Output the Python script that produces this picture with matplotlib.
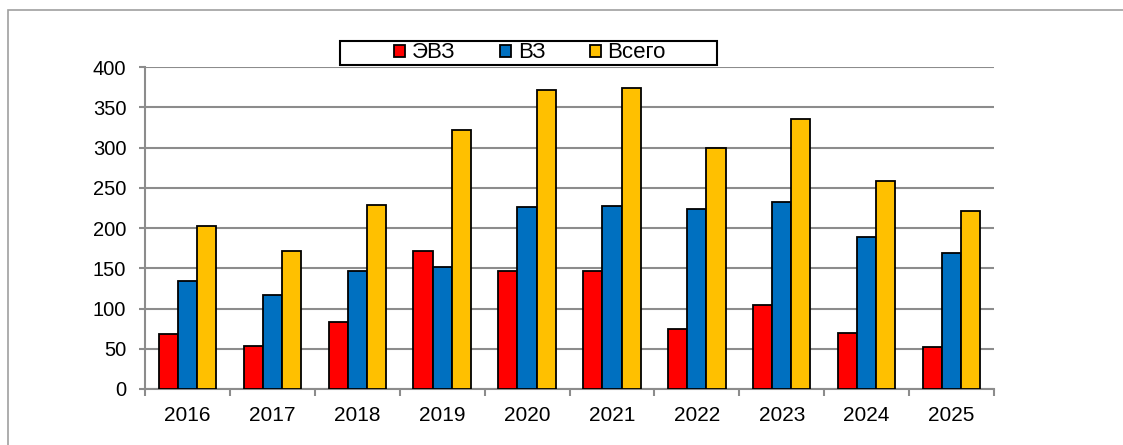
import numpy as np
import matplotlib
matplotlib.use("Agg")
import matplotlib.pyplot as plt
from matplotlib.patches import Rectangle

plt.rcParams['font.family'] = ['Liberation Sans', 'DejaVu Sans']

# Data
years = ['2016', '2017', '2018', '2019', '2020', '2021', '2022', '2023', '2024', '2025']
evz = [68, 54, 83, 171, 146, 147, 75, 104, 69, 52]
vz = [134, 117, 146, 151, 226, 227, 224, 232, 189, 169]
total = [202, 171, 229, 322, 372, 374, 299, 336, 258, 221]

series_names = ['ЭВЗ', 'ВЗ', 'Всего']
colors = ['#FF0000', '#0070C0', '#FFC000']

W, H = 1123, 445
fig = plt.figure(figsize=(W / 100, H / 100), dpi=100)
ax = fig.add_axes([145 / W, 1 - 389 / H, (994 - 145) / W, (389 - 67) / H])

x = np.arange(len(years))
bw = 0.225
for i, (vals, name, c) in enumerate(zip([evz, vz, total], series_names, colors)):
    ax.bar(x + (i - 1) * bw, vals, width=bw, color=c, edgecolor='black',
           linewidth=1.3, label=name, zorder=3)

# Axes styling
grid_c = '#8c8c8c'
ax.set_xlim(-0.5, len(years) - 0.5)
ax.set_ylim(0, 400)
ax.set_yticks(np.arange(0, 401, 50))
ax.yaxis.grid(True, color=grid_c, linewidth=1.5, zorder=0)
ax.set_axisbelow(True)
for s in ['top', 'right']:
    ax.spines[s].set_visible(False)
for s in ['left', 'bottom']:
    ax.spines[s].set_color(grid_c)
    ax.spines[s].set_linewidth(1.5)

ax.set_xticks(x)
ax.set_xticklabels(years)
ax.set_xticks(np.arange(-0.5, len(years)), minor=True)
ax.tick_params(axis='x', which='major', length=0, pad=12, labelsize=15)
ax.tick_params(axis='x', which='minor', length=5, width=1.5, color=grid_c, direction='out')
ax.tick_params(axis='y', length=4.5, width=1.5, color=grid_c, direction='out', pad=9, labelsize=14.5)

# Legend with a black box
fig.patches.append(Rectangle((340 / W, 1 - 65 / H), 377 / W, 24 / H,
                             transform=fig.transFigure, facecolor='white',
                             edgecolor='black', linewidth=1.5, zorder=5))
leg = fig.legend(loc='center', bbox_to_anchor=(530 / W, 1 - 53 / H), ncol=3,
                 frameon=False, fontsize=16, handlelength=0.5, handleheight=0.45,
                 handletextpad=0.3, columnspacing=2.0, borderaxespad=0)
leg.set_zorder(6)

# Outer chart frame (cropped on right and bottom)
fig.patches.append(Rectangle((8 / W, -0.1), 1.2, 1 - 10 / H + 0.1,
                             transform=fig.transFigure, facecolor='none',
                             edgecolor='#a0a0a0', linewidth=1.2, zorder=0))

fig.savefig('out.png', dpi=100)
